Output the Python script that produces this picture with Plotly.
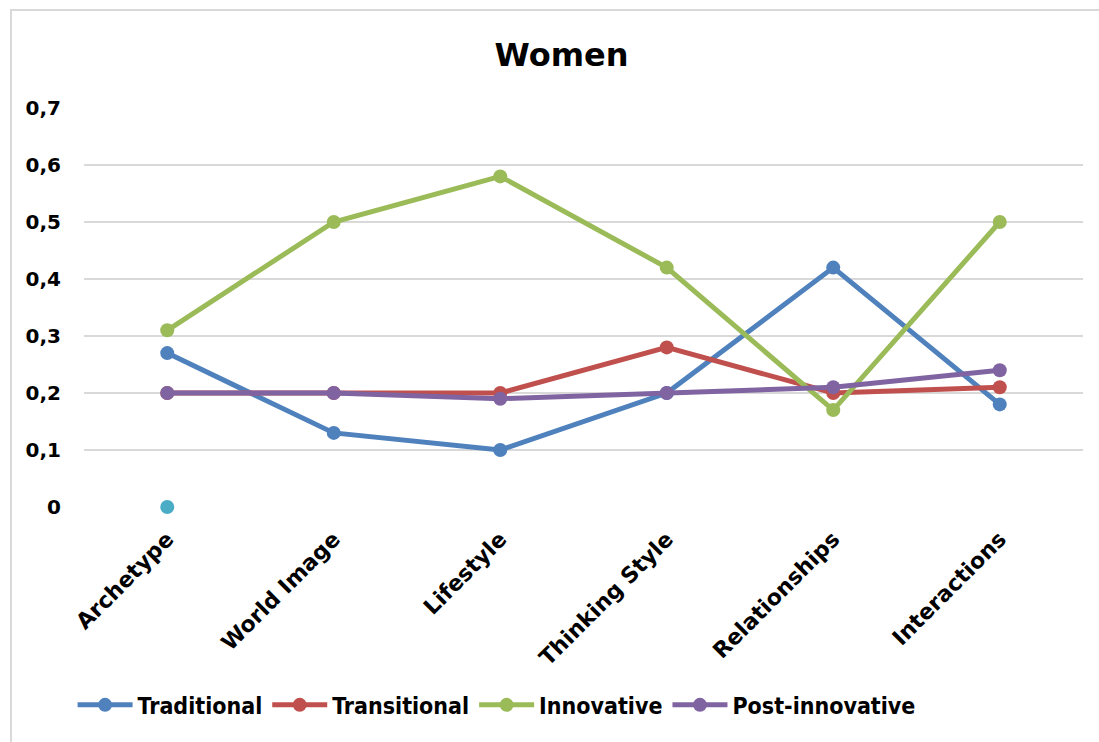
import plotly.graph_objects as go

categories = ["Archetype", "World Image", "Lifestyle", "Thinking Style", "Relationships", "Interactions"]
traditional = [0.27, 0.13, 0.10, 0.20, 0.42, 0.18]
transitional = [0.20, 0.20, 0.20, 0.28, 0.20, 0.21]
innovative = [0.31, 0.50, 0.58, 0.42, 0.17, 0.50]
post_innovative = [0.20, 0.20, 0.19, 0.20, 0.21, 0.24]
extra_series = [0.0]  # lone point shown at Archetype
y_ticks = [0, 0.1, 0.2, 0.3, 0.4, 0.5, 0.6, 0.7]
y_tick_text = ["0", "0,1", "0,2", "0,3", "0,4", "0,5", "0,6", "0,7"]

FONT = "DejaVu Sans, sans-serif"
LEG_FONT = "DejaVu Sans Condensed, DejaVu Sans, sans-serif"

series = [
    ("Traditional", traditional, "#4f81bd"),
    ("Transitional", transitional, "#c0504d"),
    ("Innovative", innovative, "#9bbb59"),
    ("Post-innovative", post_innovative, "#8064a2"),
]

fig = go.Figure()
fig.add_trace(go.Scatter(x=categories[:1], y=extra_series, mode="markers",
                         marker=dict(color="#4bacc6", size=14), showlegend=False,
                         cliponaxis=False))
for name, vals, color in series:
    fig.add_trace(go.Scatter(x=categories, y=vals, name=name, mode="lines+markers",
                             line=dict(color=color, width=5),
                             marker=dict(color=color, size=14), cliponaxis=False))

fig.update_layout(
    width=1099, height=742,
    margin=dict(l=84, r=16, t=108, b=235),
    paper_bgcolor="white", plot_bgcolor="white",
    font=dict(family=FONT, color="black"),
    title=dict(text="<b>Women</b>", x=0.511, xref="container", xanchor="center",
               y=1 - 55 / 742, yref="container", yanchor="middle",
               font=dict(size=32, family=FONT, color="black")),
    xaxis=dict(type="category", range=[-0.5, 5.5], showgrid=False, showline=False,
               zeroline=False, tickangle=-45, ticks="", ticklabelstandoff=14,
               tickfont=dict(size=22, family=FONT, color="black", weight="bold")),
    yaxis=dict(range=[0, 0.7], tickvals=y_ticks, ticktext=y_tick_text,
               showgrid=True, gridcolor="#d9d9d9", gridwidth=1.5, zeroline=False,
               showline=False, ticks="", ticklabelstandoff=22,
               tickfont=dict(size=20, family=FONT, color="black", weight="bold")),
    legend=dict(orientation="h", x=0.413, xanchor="center", y=-0.496, yanchor="middle",
                font=dict(size=23, family=LEG_FONT, color="black", weight="bold"),
                itemwidth=55, tracegroupgap=0),
    shapes=[dict(type="rect", xref="paper", yref="paper",
                 x0=(11 - 84) / 999, x1=(1120 - 84) / 999,
                 y0=(507 - 760) / 399, y1=(507 - 10) / 399,
                 line=dict(color="#d9d9d9", width=2), layer="below")],
)

fig.write_html("out.html")
